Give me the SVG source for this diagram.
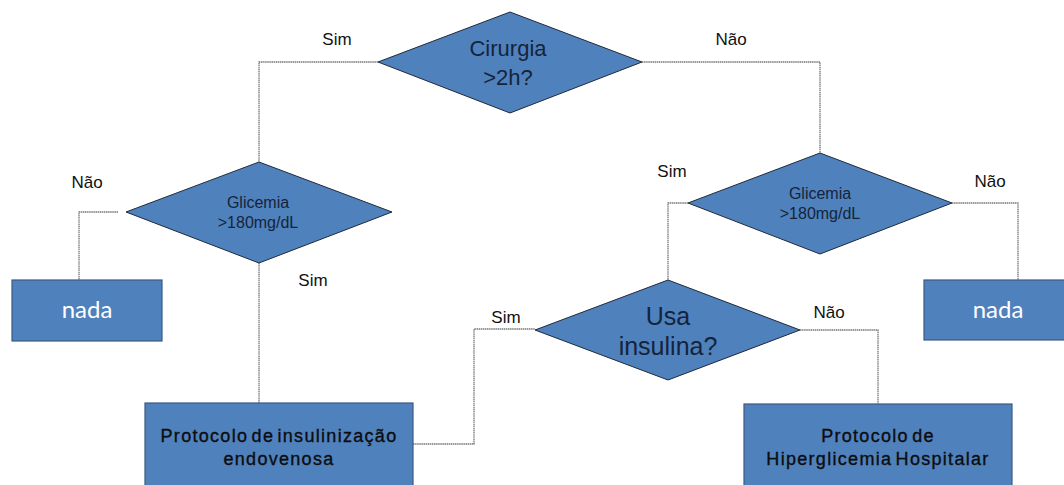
<svg xmlns="http://www.w3.org/2000/svg" width="1064" height="485" viewBox="0 0 1064 485">
<style>
.dia{fill:#4F81BD;stroke:#1F2A3A;stroke-width:1}
.box{fill:#4F81BD;stroke:#3A5A80;stroke-width:1.2}
.con{fill:none;stroke:#777;stroke-width:1.3;stroke-dasharray:1.5 0.6}
.lbl{font-family:"Liberation Sans",Arial,sans-serif;font-size:17px;fill:#111;text-anchor:middle}
.dt{font-family:"Liberation Sans",Arial,sans-serif;fill:#15243a;text-anchor:middle}
.bt{font-family:"Liberation Sans",Arial,sans-serif;font-size:18px;letter-spacing:1.3px;word-spacing:-3px;fill:#0d0d0d;stroke:#0d0d0d;stroke-width:0.35;text-anchor:middle}
.nd{font-family:Lato,"Open Sans",sans-serif;font-size:24px;fill:#fff;text-anchor:middle}
</style>
<rect width="1064" height="485" fill="#fff"/>
<g id="connectors">
<polyline class="con" points="378,62 259,62 259,162"/>
<polyline class="con" points="642,62 820,62 820,154"/>
<polyline class="con" points="118,212 79,212 79,280"/>
<polyline class="con" points="259,263 259,403"/>
<polyline class="con" points="688,203 668,203 668,280"/>
<polyline class="con" points="952,203 1018,203 1018,280"/>
<polyline class="con" points="413,444 474,444 474,329 535,329"/>
<polyline class="con" points="800,330 878,330 878,404"/>
</g>
<g id="labels">
<text class="lbl" x="337" y="45">Sim</text>
<text class="lbl" x="731" y="45">Não</text>
<text class="lbl" x="87" y="188">Não</text>
<text class="lbl" x="313" y="286">Sim</text>
<text class="lbl" x="672" y="177">Sim</text>
<text class="lbl" x="990" y="187">Não</text>
<text class="lbl" x="506" y="323">Sim</text>
<text class="lbl" x="829" y="318">Não</text>
</g>
<g id="cirurgia">
<polygon class="dia" points="510,12 642,62 510,113 378,62"/>
<text class="dt" x="508" y="56" font-size="22">Cirurgia</text>
<text class="dt" x="508" y="85" font-size="22">&gt;2h?</text>
</g>
<g id="glicemia-left">
<polygon class="dia" points="259,162 392,212 259,263 126,212"/>
<text class="dt" x="258" y="208" font-size="16">Glicemia</text>
<text class="dt" x="258" y="228" font-size="16">&gt;180mg/dL</text>
</g>
<g id="glicemia-right">
<polygon class="dia" points="820,153 952,203 820,254 688,203"/>
<text class="dt" x="820" y="199" font-size="16">Glicemia</text>
<text class="dt" x="820" y="219" font-size="16">&gt;180mg/dL</text>
</g>
<g id="usa-insulina">
<polygon class="dia" points="668,280 800,330 668,380 535,330"/>
<text class="dt" x="668" y="325" font-size="25">Usa</text>
<text class="dt" x="668" y="355" font-size="25">insulina?</text>
</g>
<g id="nada-left">
<rect class="box" x="12" y="280" width="150" height="61"/>
<text class="nd" x="87" y="318">nada</text>
</g>
<g id="nada-right">
<rect class="box" x="924" y="280" width="150" height="60"/>
<text class="nd" x="998" y="318">nada</text>
</g>
<g id="protocolo-endovenosa">
<rect class="box" x="145" y="403" width="268" height="90"/>
<text class="bt" x="279" y="442">Protocolo de insulinização</text>
<text class="bt" x="279" y="465">endovenosa</text>
</g>
<g id="protocolo-hiperglicemia">
<rect class="box" x="744" y="404" width="268" height="90"/>
<text class="bt" x="878" y="442">Protocolo de</text>
<text class="bt" x="878" y="465">Hiperglicemia Hospitalar</text>
</g>
</svg>
